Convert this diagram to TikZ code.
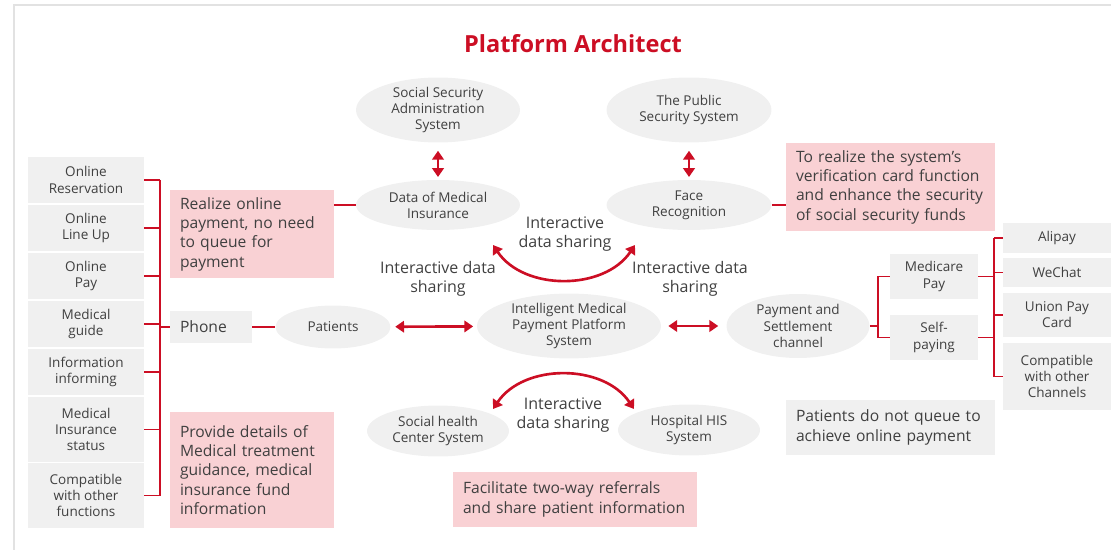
\documentclass[tikz,border=0pt]{standalone}
\usepackage{fontspec}
\setmainfont{Open Sans}
\usepackage{tikz}
\usetikzlibrary{arrows.meta, positioning, shapes.geometric}
\definecolor{hcred}{RGB}{204,14,36}
\definecolor{hcpink}{RGB}{249,209,212}
\definecolor{hcgray}{RGB}{240,240,240}
\definecolor{hctext}{RGB}{64,64,64}
\definecolor{hcframe}{RGB}{226,226,226}

\begin{document}
\begin{tikzpicture}[x=0.02cm, y=-0.02cm,
  every node/.style={text=hctext, font=\fontsize{7.7}{9.2}\selectfont},
  sys/.style={ellipse, fill=hcgray, inner sep=0pt, align=center},
  item/.style={rectangle, fill=hcgray, inner sep=0pt, align=center},
  note/.style={rectangle, fill=hcpink, inner xsep=0.2cm, inner ysep=0pt, align=left,
               font=\fontsize{8.9}{11}\selectfont},
  label/.style={align=center, font=\fontsize{9.1}{10.8}\selectfont},
  link/.style={draw=hcred, line width=0.9pt},
  twoway/.style={{Triangle[length=5pt,width=6.5pt]}-{Triangle[length=5pt,width=6.5pt]},
                 draw=hcred, line width=1.5pt}
]
\useasboundingbox (0,0) rectangle (1111,550);
\draw[hcframe, line width=0.04cm] (14,550) -- (14,5) -- (1111,5);

% Title
\node[font=\fontsize{13.4}{16}\selectfont\bfseries, text=hcred] (title) at (573,44) {Platform Architect};

% Left column: phone functions
\node[item, minimum width=2.32cm, minimum height=0.92cm] (res) at (86,180) {Online\\Reservation};
\node[item, minimum width=2.32cm, minimum height=0.92cm] (lineup) at (86,228) {Online\\Line Up};
\node[item, minimum width=2.32cm, minimum height=0.92cm] (opay) at (86,276) {Online\\Pay};
\node[item, minimum width=2.32cm, minimum height=0.92cm] (guide) at (86,324) {Medical\\guide};
\node[item, minimum width=2.32cm, minimum height=0.92cm] (inform) at (86,372) {Information\\informing};
\node[item, minimum width=2.32cm, minimum height=1.3cm] (mstatus) at (86,429.5) {Medical\\Insurance\\status};
\node[item, minimum width=2.32cm, minimum height=1.3cm] (otherfn) at (86,495.5) {Compatible\\with other\\functions};
\coordinate (lbus) at (160,0);

\node[item, minimum width=1.64cm, minimum height=0.64cm, inner xsep=0.2cm, text width=1.24cm,
      align=left, font=\fontsize{8.9}{11}\selectfont] (phone) at (211,327) {Phone};

% Notes
\node[note, text width=2.88cm, minimum height=1.76cm] (online) at (252,234)
  {Realize online\\payment, no need\\to queue for\\payment};
\node[note, text width=2.88cm, minimum height=2.32cm] (details) at (252,470)
  {Provide details of\\Medical treatment\\guidance, medical\\insurance fund\\information};
\node[note, text width=3.78cm, minimum height=1.76cm] (verify) at (890.5,187)
  {To realize the system's\\verification card function\\and enhance the security\\of social security funds};
\node[note, text width=4.48cm, minimum height=1.1cm] (referral) at (575,499.5)
  {Facilitate two-way referrals\\and share patient information};
\node[note, fill=hcgray, text width=3.78cm, minimum height=1.1cm] (noqueue) at (890.5,427.5)
  {Patients do not queue to\\achieve online payment};

% Systems
\node[sys, minimum width=3.28cm, minimum height=1.3cm] (ssas) at (438,110) {Social Security\\Administration\\System};
\node[sys, minimum width=3.28cm, minimum height=1.0cm] (dmi) at (438,205) {Data of Medical\\Insurance};
\node[sys, minimum width=3.3cm, minimum height=1.3cm] (pss) at (689,110) {The Public\\Security System};
\node[sys, minimum width=3.3cm, minimum height=1.0cm] (face) at (689,205) {Face\\Recognition};
\node[sys, minimum width=2.3cm, minimum height=0.86cm] (patients) at (333,327) {Patients};
\node[sys, minimum width=3.68cm, minimum height=1.28cm] (imps) at (569,326) {Intelligent Medical\\Payment Platform\\System};
\node[sys, minimum width=2.86cm, minimum height=1.28cm] (settle) at (798,326) {Payment and\\Settlement\\channel};
\node[sys, minimum width=2.84cm, minimum height=1.02cm] (shc) at (438,431) {Social health\\Center System};
\node[sys, minimum width=2.84cm, minimum height=1.02cm] (his) at (689,430) {Hospital HIS\\System};

% Payment channels
\node[item, minimum width=1.76cm, minimum height=0.9cm] (medicare) at (934,276.5) {Medicare\\Pay};
\node[item, minimum width=1.76cm, minimum height=0.9cm] (selfpay) at (934,337.5) {Self-\\paying};
\node[item, minimum width=2.16cm, minimum height=0.6cm] (alipay) at (1057,238) {Alipay};
\node[item, minimum width=2.16cm, minimum height=0.58cm] (wechat) at (1057,272.5) {WeChat};
\node[item, minimum width=2.16cm, minimum height=0.88cm] (union) at (1057,315) {Union Pay\\Card};
\node[item, minimum width=2.16cm, minimum height=1.34cm] (otherch) at (1057,376.5) {Compatible\\with other\\Channels};
\coordinate (pbus) at (878,0);
\coordinate (rbus) at (994,0);

% Labels
\node[label] (lbtop) at (565,234) {Interactive\\data sharing};
\node[label] (lbleft) at (438,279) {Interactive data\\sharing};
\node[label] (lbright) at (690,279) {Interactive data\\sharing};
\node[label] (lbbot) at (563,415) {Interactive\\data sharing};

% Brackets
\foreach \n in {res, lineup, opay, guide, inform, mstatus, otherfn}
  \draw[link] (\n.east) -- (\n.east -| lbus);
\draw[link] (res.east -| lbus) -- (otherfn.east -| lbus);
\draw[link] (phone.west -| lbus) -- (phone.west);
\draw[link] (phone.east) -- (patients.west);
\draw[link] (online.east |- dmi.west) -- (dmi.west);
\draw[link] (face.east) -- (face.east -| verify.west);

\draw[link] (settle.east) -- (settle.east -| pbus);
\draw[link] (medicare.west -| pbus) -- (selfpay.west -| pbus);
\draw[link] (medicare.west -| pbus) -- (medicare.west);
\draw[link] (selfpay.west -| pbus) -- (selfpay.west);
\draw[link] (medicare.east) -- (medicare.east -| rbus);
\draw[link] (selfpay.east) -- (selfpay.east -| rbus);
\draw[link] (alipay.west -| rbus) -- (otherch.west -| rbus);
\foreach \n in {alipay, wechat, union, otherch}
  \draw[link] (\n.west -| rbus) -- (\n.west);

% Arrows
\draw[twoway, shorten <=4.5pt, shorten >=1.5pt] (ssas) -- (dmi);
\draw[twoway, shorten <=4.5pt, shorten >=1.5pt] (pss) -- (face);
\draw[twoway, shorten <=2.5pt, shorten >=2pt] (patients) -- (imps);
\draw[twoway, shorten <=4pt, shorten >=4.5pt] (imps) -- (settle);
\coordinate (ua) at (493,245);
\coordinate (ub) at (635,245);
\coordinate (la) at (493,409);
\coordinate (lb) at (634,409);
\draw[twoway] (ua) to[bend right=56] (ub);
\draw[twoway] (la) to[bend left=56] (lb);
\end{tikzpicture}
\end{document}
